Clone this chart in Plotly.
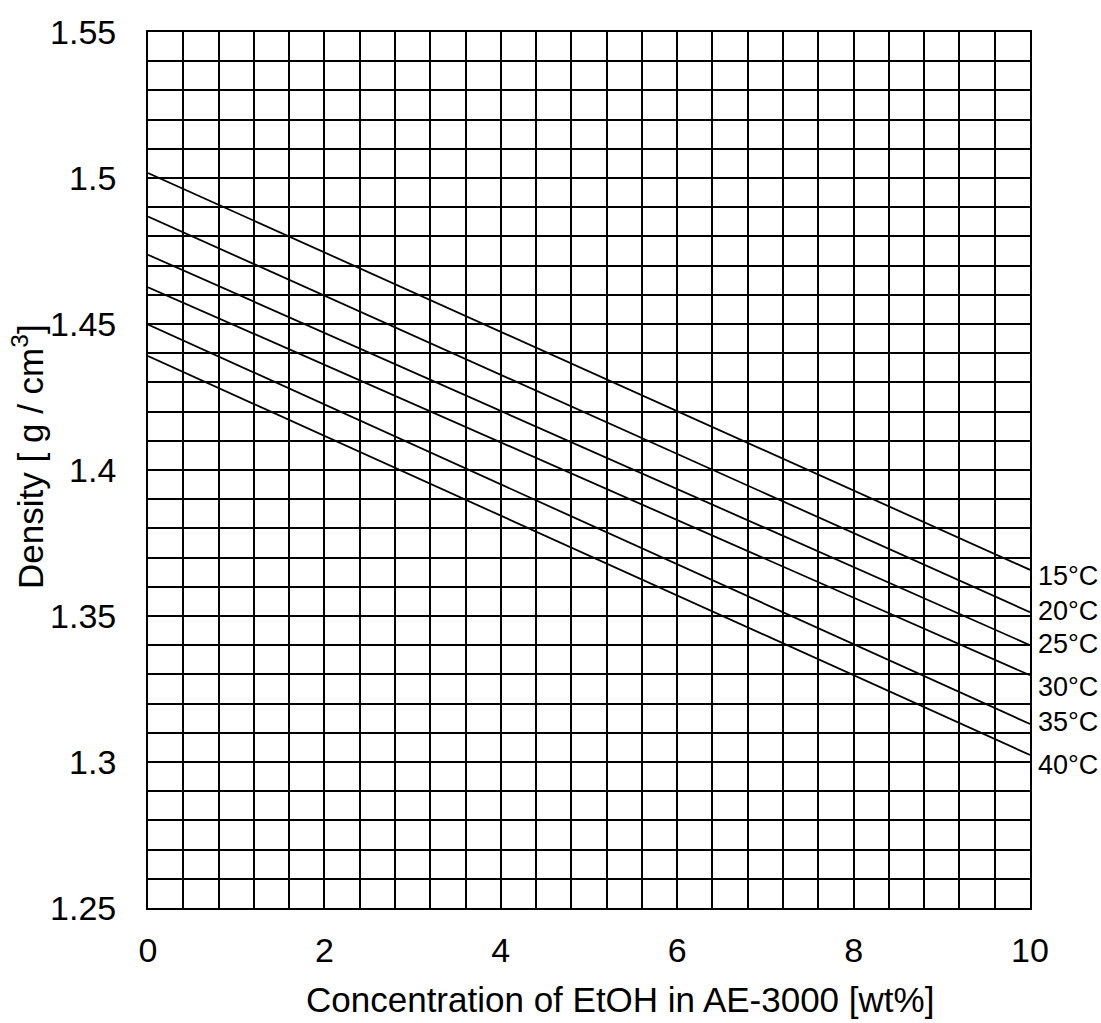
import plotly.graph_objects as go

# Data
concentration = [0, 10]
temps = ["15°C", "20°C", "25°C", "30°C", "35°C", "40°C"]
density_at_0 = [1.5017, 1.4868, 1.4737, 1.4626, 1.4498, 1.4390]
density_at_10 = [1.3658, 1.3513, 1.3400, 1.3297, 1.3130, 1.3024]
label_y = [1.3636, 1.3516, 1.3403, 1.3257, 1.3137, 1.2990]

FONT = "Liberation Sans, Arial, sans-serif"

fig = go.Figure()
for t, d0, d10 in zip(temps, density_at_0, density_at_10):
    fig.add_trace(go.Scatter(
        x=concentration, y=[d0, d10], mode="lines",
        line=dict(color="black", width=1.8), name=t, showlegend=False,
        cliponaxis=False, hoverinfo="skip",
    ))

for t, ly in zip(temps, label_y):
    fig.add_annotation(
        x=10, y=ly, xref="x", yref="y", text=t, showarrow=False,
        xanchor="left", yanchor="middle", xshift=6,
        font=dict(family=FONT, size=27, color="black"),
    )

fig.add_annotation(
    x=0.535, y=-0.105, xref="paper", yref="paper",
    text="Concentration of EtOH in AE-3000 [wt%]", showarrow=False,
    xanchor="center", yanchor="middle",
    font=dict(family=FONT, size=35, color="black"),
)
fig.add_annotation(
    x=-0.136, y=0.515, xref="paper", yref="paper",
    text="Density [ g / cm<sup>3</sup>]", showarrow=False, textangle=-90,
    xanchor="center", yanchor="middle",
    font=dict(family=FONT, size=35, color="black"),
)

fig.update_layout(
    width=1101, height=1023,
    margin=dict(l=148, r=71, t=32, b=115),
    paper_bgcolor="white", plot_bgcolor="white",
    font=dict(family=FONT, color="black"),
    hovermode=False,
)

fig.update_xaxes(
    range=[0, 10], dtick=2, tick0=0,
    showgrid=True, gridcolor="black", gridwidth=1.8,
    minor=dict(dtick=0.4, showgrid=True, gridcolor="black", gridwidth=1.8),
    showline=True, linecolor="black", linewidth=1.8, mirror=True,
    zeroline=False, ticks="", ticklabelstandoff=11,
    tickfont=dict(family=FONT, size=34, color="black"),
)
fig.update_yaxes(
    range=[1.25, 1.55], dtick=0.05, tick0=1.25,
    showgrid=True, gridcolor="black", gridwidth=1.8,
    minor=dict(dtick=0.01, showgrid=True, gridcolor="black", gridwidth=1.8),
    showline=True, linecolor="black", linewidth=1.8, mirror=True,
    zeroline=False, ticks="", ticklabelstandoff=23,
    tickformat="~g",
    tickfont=dict(family=FONT, size=34, color="black"),
)

fig.write_html(
    "out.html",
    config={"displayModeBar": False},
    post_script="document.body.style.margin='0';document.body.style.overflow='hidden';document.documentElement.style.overflow='hidden';",
)
